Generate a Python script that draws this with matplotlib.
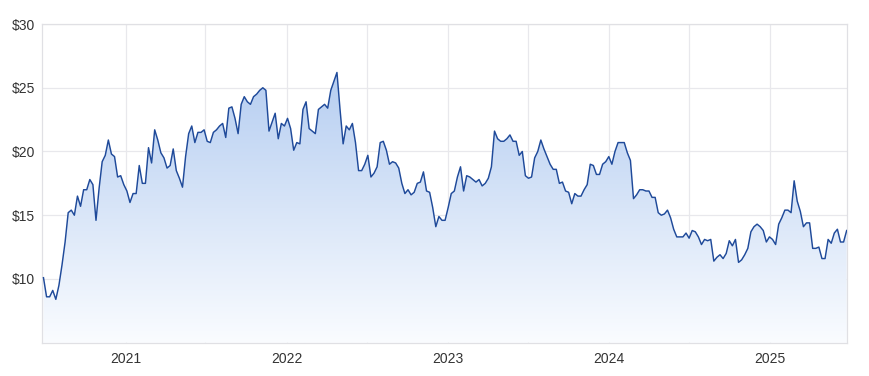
import numpy as np
import pandas as pd
import matplotlib
matplotlib.use("Agg")
import matplotlib.pyplot as plt
import matplotlib.dates as mdates
from matplotlib.ticker import FuncFormatter

plt.rcParams["font.family"] = ["Liberation Sans", "DejaVu Sans"]

# Weekly closing prices
prices = [
    10.1, 8.6, 8.6, 9.1, 8.4, 9.5, 11.1, 12.9, 15.2, 15.4,
    15.0, 16.5, 15.7, 17.0, 17.0, 17.8, 17.4, 14.6, 17.1, 19.2,
    19.7, 20.9, 19.8, 19.6, 18.0, 18.1, 17.4, 16.9, 16.0, 16.7,
    16.7, 18.9, 17.5, 17.5, 20.3, 19.1, 21.7, 20.9, 19.9, 19.5,
    18.7, 18.9, 20.2, 18.5, 17.9, 17.2, 19.6, 21.4, 22.0, 20.7,
    21.5, 21.5, 21.7, 20.8, 20.7, 21.5, 21.7, 22.0, 22.2, 21.1,
    23.4, 23.5, 22.6, 21.4, 23.7, 24.3, 23.9, 23.7, 24.3, 24.5,
    24.8, 25.0, 24.8, 21.6, 22.3, 23.0,
    21.0, 22.2, 22.0, 22.6, 21.8, 20.1, 20.7, 20.6, 23.3, 23.9,
    21.8, 21.6, 21.4, 23.3, 23.5, 23.7, 23.4, 24.8, 25.5, 26.2,
    23.3, 20.6, 22.0, 21.7, 22.2, 20.7, 18.5, 18.5, 19.0, 19.7,
    18.0, 18.3, 18.8, 20.7, 20.8, 20.1, 19.0, 19.2, 19.1, 18.7,
    17.5, 16.7, 17.0, 16.6, 16.8, 17.5, 17.6, 18.4, 16.9, 16.8,
    15.6, 14.1, 14.9, 14.6, 14.6, 15.6, 16.7, 16.9, 18.0, 18.8,
    16.9, 18.1, 18.0, 17.8, 17.6, 17.8, 17.3, 17.5, 17.9, 18.8,
    21.6, 21.0, 20.8, 20.8, 21.0, 21.3, 20.8, 20.8, 19.7, 20.0,
    18.1, 17.9, 18.0, 19.5, 20.0, 20.9, 20.2, 19.6, 19.0, 18.6,
    18.6, 17.5, 17.6, 16.9, 16.8, 15.9, 16.7, 16.5,
    16.5, 17.0, 17.4, 19.0, 18.9, 18.2, 18.2, 19.0, 19.2, 19.6,
    19.0, 20.0, 20.7, 20.7, 20.7, 19.9, 19.3, 16.3, 16.6, 17.0,
    17.0, 16.9, 16.9, 16.4, 16.4, 15.2, 15.0, 15.1, 15.4, 14.8,
    13.9, 13.3, 13.3, 13.3, 13.6, 13.2, 13.8, 13.7, 13.3, 12.7,
    13.1, 13.0, 13.1, 11.4, 11.7, 11.9, 11.6, 12.0, 13.0, 12.6,
    13.1, 11.3, 11.5, 11.9, 12.4, 13.7, 14.1, 14.3, 14.1, 13.8,
    12.9, 13.3, 13.1, 12.7, 14.3, 14.8, 15.4, 15.4, 15.2, 17.7,
    16.1, 15.3, 14.1, 14.4, 14.4, 12.4, 12.4, 12.5, 11.6, 11.6,
    13.1, 12.8, 13.6, 13.9, 12.9, 12.9, 13.8,
]
end_date = "2025-06-23"
y_ticks = [10, 15, 20, 25, 30]
year_ticks = ["2021-01-01", "2022-01-01", "2023-01-01", "2024-01-01", "2025-01-01"]
half_ticks = ["2021-07-01", "2022-07-01", "2023-07-01", "2024-07-01"]

dates = pd.date_range(end=end_date, periods=len(prices), freq="7D")
xn = mdates.date2num(dates.to_pydatetime())
vals = np.array(prices)

fig = plt.figure(figsize=(8.69, 3.76), dpi=100)
ax = fig.add_axes([0.048, 0.0886, 0.9263, 0.8475])

x0 = mdates.date2num(pd.Timestamp("2020-06-25"))
x1 = mdates.date2num(pd.Timestamp("2025-06-23"))
ax.set_xlim(x0, x1)
ax.set_ylim(5, 30)

# gradient fill under line
poly = ax.fill_between(xn, vals, 5, color="none", lw=0)
top_c = np.array([182, 206, 241]) / 255.0
bot_c = np.array([250, 252, 255]) / 255.0
ymax_data = vals.max()
n = 256
t = np.linspace(0, 1, n)[:, None]
grad = (bot_c[None, :] * (1 - t) + top_c[None, :] * t)
grad = grad[:, None, :].repeat(2, axis=1)
im = ax.imshow(grad, extent=[x0, x1, 5, ymax_data], origin="lower",
               aspect="auto", zorder=1, interpolation="bilinear")
path = poly.get_paths()[0]
im.set_clip_path(path, transform=ax.transData)

ax.plot(xn, vals, color="#1f4a9a", lw=1.05, zorder=3)

ax.set_yticks(y_ticks)
ax.yaxis.set_major_formatter(FuncFormatter(lambda v, p: f"${v:.0f}"))
ax.set_xticks([mdates.date2num(pd.Timestamp(d)) for d in year_ticks])
ax.set_xticklabels([d[:4] for d in year_ticks])
ax.set_xticks([mdates.date2num(pd.Timestamp(d)) for d in half_ticks], minor=True)

ax.grid(True, which="both", color="#e8e8ec", lw=0.9, zorder=0)
ax.set_axisbelow(True)
ax.tick_params(axis="both", which="both", length=0, labelsize=10, colors="#333333")
ax.tick_params(axis="y", pad=5)
ax.tick_params(axis="x", pad=7)
for s in ax.spines.values():
    s.set_color("#e0e0e4")
    s.set_linewidth(0.9)

fig.savefig("out.png", dpi=100)
